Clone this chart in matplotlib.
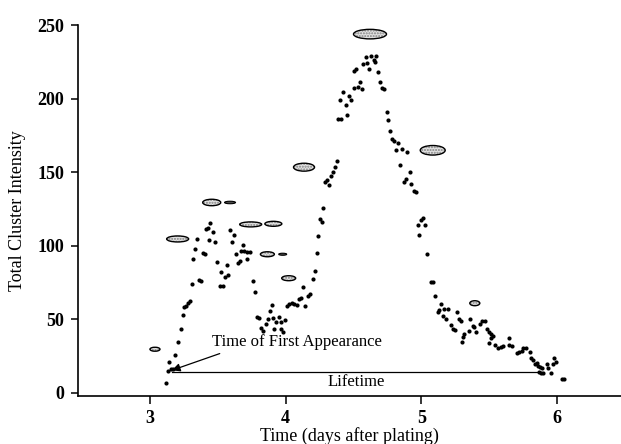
import matplotlib
matplotlib.use("Agg")
import matplotlib.pyplot as plt
from matplotlib.patches import Ellipse

# time (days after plating) and total cluster intensity
days = [3.116, 3.130, 3.142, 3.153, 3.172, 3.184, 3.209, 3.226, 3.241, 3.253,
        3.265, 3.282, 3.295, 3.307, 3.319, 3.332, 3.344, 3.363, 3.376, 3.393,
        3.405, 3.413, 3.427, 3.446, 3.438, 3.466, 3.480, 3.497, 3.522, 3.516,
        3.536, 3.551, 3.577, 3.565, 3.591, 3.619, 3.606, 3.634, 3.648, 3.660,
        3.687, 3.673, 3.695, 3.715, 3.739, 3.715, 3.761, 3.775, 3.786, 3.803,
        3.818, 3.835, 3.857, 3.872, 3.887, 3.899, 3.909, 3.917, 3.929, 3.947,
        3.962, 3.965, 3.978, 3.997, 4.013, 4.027, 4.043, 4.061, 4.080, 4.100,
        4.113, 4.130, 4.144, 4.162, 4.179, 4.199, 4.216, 4.228, 4.240, 4.253,
        4.265, 4.277, 4.292, 4.307, 4.321, 4.332, 4.349, 4.363, 4.376, 4.382,
        4.410, 4.398, 4.422, 4.441, 4.452, 4.468, 4.481, 4.500, 4.505, 4.518,
        4.535, 4.547, 4.560, 4.572, 4.599, 4.588, 4.616, 4.626, 4.647, 4.658,
        4.668, 4.682, 4.697, 4.712, 4.724, 4.744, 4.756, 4.769, 4.783, 4.800,
        4.825, 4.811, 4.855, 4.896, 4.842, 4.912, 4.885, 4.873, 4.925, 4.943,
        4.957, 5.008, 4.995, 4.973, 5.028, 4.984, 5.043, 5.068, 5.088, 5.102,
        5.147, 5.130, 5.120, 5.169, 5.198, 5.260, 5.157, 5.181, 5.218, 5.231,
        5.250, 5.292, 5.279, 5.316, 5.304, 5.299, 5.358, 5.378, 5.390, 5.353,
        5.400, 5.444, 5.469, 5.432, 5.481, 5.496, 5.513, 5.511, 5.525, 5.496,
        5.542, 5.567, 5.587, 5.603, 5.645, 5.648, 5.670, 5.702, 5.717, 5.739,
        5.751, 5.769, 5.800, 5.808, 5.825, 5.854, 5.837, 5.859, 5.874, 5.891,
        5.923, 5.935, 5.979, 5.994, 5.968, 5.864, 5.879, 5.898, 5.953, 6.038,
        6.051]
intensity = [6.4, 15.0, 21.1, 16.3, 15.9, 25.9, 34.3, 43.1, 52.7, 58.1,
             59.0, 61.2, 62.4, 73.7, 90.7, 97.6, 104.4, 76.7, 76.2, 94.8,
             94.2, 111.6, 112.2, 115.2, 103.5, 109.0, 102.7, 89.1, 82.1, 72.6,
             72.6, 78.7, 79.7, 87.1, 110.9, 107.1, 102.2, 94.6, 88.0, 89.3,
             100.3, 96.6, 96.4, 95.9, 95.4, 91.2, 75.9, 68.5, 51.3, 51.0,
             43.7, 41.6, 46.6, 50.3, 55.6, 59.5, 50.6, 43.3, 47.8, 51.2,
             48.1, 43.1, 41.5, 49.7, 59.0, 60.1, 60.8, 60.1, 59.3, 63.5,
             64.6, 71.7, 59.2, 65.8, 67.1, 77.3, 82.8, 94.8, 106.6, 118.4,
             116.1, 125.4, 143.3, 144.5, 141.1, 147.4, 150.3, 153.1, 157.6, 186.0,
             185.8, 199.1, 204.1, 195.5, 188.6, 202.0, 198.9, 207.3, 218.4, 220.2,
             207.6, 210.9, 206.6, 223.3, 224.3, 228.4, 220.2, 228.8, 226.3, 225.0,
             229.0, 217.7, 211.2, 206.9, 206.5, 190.6, 185.4, 177.6, 172.2, 171.4,
             169.7, 164.8, 165.8, 163.6, 154.9, 150.3, 145.5, 143.0, 142.0, 137.0,
             136.3, 118.7, 117.5, 113.9, 113.9, 107.5, 94.5, 75.3, 75.3, 66.0,
             60.3, 56.3, 54.9, 56.7, 57.1, 54.7, 52.2, 49.9, 46.1, 43.1,
             42.7, 49.0, 49.9, 39.9, 37.7, 34.3, 49.9, 45.4, 44.5, 42.2,
             41.5, 48.8, 49.0, 46.7, 43.1, 41.5, 39.7, 37.0, 38.6, 34.0,
             32.4, 30.6, 30.9, 31.8, 37.0, 32.4, 31.8, 26.8, 27.9, 28.4,
             30.2, 30.6, 27.9, 23.8, 22.2, 20.0, 19.3, 18.4, 17.5, 16.6,
             19.5, 16.6, 23.4, 21.1, 19.5, 14.3, 13.2, 13.2, 13.2, 9.1,
             9.1]

# cluster outlines drawn above the trace
cluster_x = [3.037, 3.204, 3.455, 3.590, 3.742, 3.909, 3.865, 3.978, 4.022,
             4.135, 4.621, 5.083, 5.393]
cluster_y = [29.5, 104.5, 129.3, 129.3, 114.4, 114.8, 94.1, 94.1, 77.8,
             153.3, 243.8, 164.8, 60.8]
cluster_w = [0.074, 0.162, 0.133, 0.081, 0.162, 0.125, 0.103, 0.059, 0.103,
             0.155, 0.243, 0.184, 0.074]
cluster_h = [2.7, 4.1, 4.4, 1.7, 3.4, 3.4, 3.4, 1.4, 3.4, 5.4, 6.5, 6.5, 3.4]
cluster_dark = [False, False, False, True, False, False, False, True, False,
                False, False, False, False]

first_appearance = (3.162, 15.2)
lifetime_end = 5.86
lifetime_y = 14.3

xticks = [3, 4, 5, 6]
yticks = [0, 50, 100, 150, 200, 250]

serif = "Liberation Serif"

fig = plt.figure(figsize=(6.21, 4.44), dpi=100)
ax = fig.add_axes([78 / 621, 48 / 444, 543 / 621, 371 / 444])

ax.plot(days, intensity, "o", color="black", ms=3.0, mew=0)

for x, y, w, h, dark in zip(cluster_x, cluster_y, cluster_w, cluster_h, cluster_dark):
    if dark:
        ax.add_patch(Ellipse((x, y), w, h, fc="#4a4a4a", ec="black", lw=0.8))
    else:
        ax.add_patch(Ellipse((x, y), w, h, fc="#e2e2e2", ec="#808080",
                             lw=0, hatch="......"))
        ax.add_patch(Ellipse((x, y), w, h, fc="none", ec="black", lw=1.0))

# lifetime bar and first-appearance arrow
ax.plot([first_appearance[0], lifetime_end], [lifetime_y, lifetime_y],
        color="black", lw=0.9)
ax.annotate("Time of First Appearance", xy=first_appearance, xytext=(4.08, 34.5),
            ha="center", va="center", fontsize=12, family=serif,
            arrowprops=dict(arrowstyle="-|>", color="black", lw=0.9,
                            mutation_scale=12, shrinkA=2, shrinkB=0,
                            relpos=(0.11, 0.0)))
ax.text(4.52, 7.1, "Lifetime", ha="center", va="center", fontsize=12,
        family=serif)

ax.set_xlim(2.47, 6.47)
ax.set_ylim(-2.3, 250)
ax.set_xticks(xticks)
ax.set_yticks(yticks)
for lab in ax.get_xticklabels() + ax.get_yticklabels():
    lab.set_family(serif)
    lab.set_fontweight("bold")
    lab.set_fontsize(13)
ax.tick_params(direction="out", length=5, width=1.1, pad=5)
ax.tick_params(axis="x", length=6, pad=4)

for side in ["top", "right"]:
    ax.spines[side].set_visible(False)
for side in ["left", "bottom"]:
    ax.spines[side].set_linewidth(1.2)
ax.spines["left"].set_bounds(-2.3, 250)

ax.set_xlabel("Time (days after plating)", family=serif, fontsize=13, labelpad=0)
ax.set_ylabel("Total Cluster Intensity", family=serif, fontsize=13, labelpad=8)

fig.savefig("out.png", dpi=100)
